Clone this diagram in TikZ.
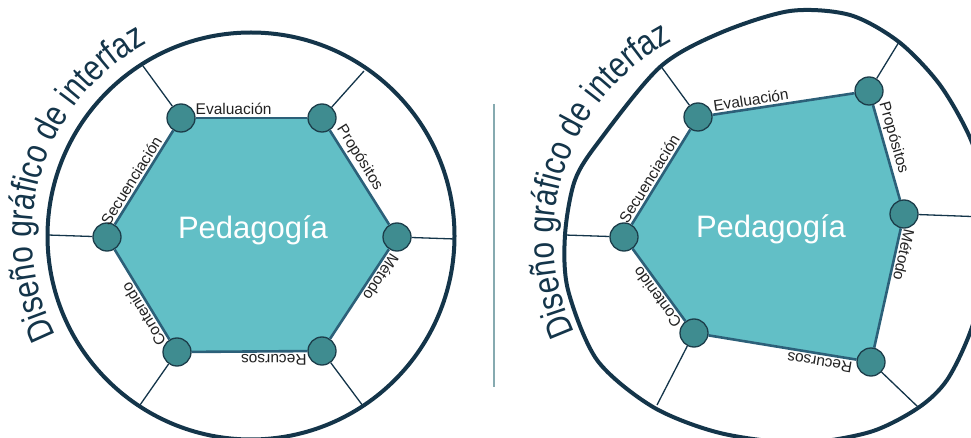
\documentclass[tikz,border=0pt]{standalone}
\usepackage{fontspec}
\setmainfont{Liberation Sans}
\newfontfamily\titlefam[FakeStretch=0.83]{Liberation Sans}
\usetikzlibrary{decorations.text}
\definecolor{navy}{HTML}{14354A}
\definecolor{tealfill}{HTML}{62BFC6}
\definecolor{dotfill}{HTML}{3F8C90}
\definecolor{dotline}{HTML}{1C3D4A}
\definecolor{edgecol}{HTML}{2C6079}
\definecolor{divcol}{HTML}{86AAB0}
\definecolor{labcol}{HTML}{222222}
\newcommand{\titlefont}{\titlefam\fontsize{36}{38}\selectfont\color{navy}}
\begin{document}
\begin{tikzpicture}[x=1pt,y=-1pt,
  dot/.style={circle, draw=dotline, fill=dotfill, line width=1.3pt, minimum size=28pt, inner sep=0pt},
  hexedge/.style={draw=edgecol, line width=2.6pt},
  spoke/.style={draw=navy, line width=1.3pt},
  outerline/.style={draw=navy, line width=4pt},
  lab/.style={font=\fontsize{15.5}{17}\selectfont, text=labcol, sloped, allow upside down, above, inner sep=2pt},
  centertext/.style={font=\fontsize{31}{33}\selectfont, text=white, anchor=base},
  divider/.style={draw=divcol, line width=1.2pt}
]
\useasboundingbox (0,0) rectangle (971,438);
\clip (0,0) rectangle (971,438);

% ---------------- left diagram ----------------
\coordinate (lc) at (251,236);
\coordinate (lA) at (181,118);
\coordinate (lB) at (322,118);
\coordinate (lC) at (397,237);
\coordinate (lD) at (322,351);
\coordinate (lE) at (177,352);
\coordinate (lF) at (107,237);
\fill[tealfill] (lA) -- (lB) -- (lC) -- (lD) -- (lE) -- (lF) -- cycle;
\draw[outerline] (lc) circle[radius=203.5pt];
\coordinate (lsA) at (143,66);
\coordinate (lsB) at (364,71);
\coordinate (lsC) at (455,239);
\coordinate (lsD) at (363,406);
\coordinate (lsE) at (140,405);
\coordinate (lsF) at (48,235);
\node[dot] (lev) at (lA) {};
\node[dot] (lpr) at (lB) {};
\node[dot] (lme) at (lC) {};
\node[dot] (lre) at (lD) {};
\node[dot] (lco) at (lE) {};
\node[dot] (lse) at (lF) {};
\draw[spoke] (lev) -- (lsA);
\draw[spoke] (lpr) -- (lsB);
\draw[spoke] (lme) -- (lsC);
\draw[spoke] (lre) -- (lsD);
\draw[spoke] (lco) -- (lsE);
\draw[spoke] (lse) -- (lsF);
\draw[hexedge] (lev) -- node[lab,pos=0.34] {Evaluación} (lpr);
\draw[hexedge] (lpr) -- node[lab,pos=0.35] {Propósitos} (lme);
\draw[hexedge] (lme) -- node[lab,pos=0.26] {Método} (lre);
\draw[hexedge] (lre) -- node[lab,pos=0.29] {Recursos} (lco);
\draw[hexedge] (lco) -- node[lab,pos=0.33] {Contenido} (lse);
\draw[hexedge] (lse) -- node[lab,pos=0.415] {Secuenciación} (lev);
\node[centertext] (lped) at (253,239) {Pedagogía};
\path[decorate, decoration={text along path, text align=left,
  text={|\titlefont|Diseño gráfico de interfaz}}]
  ([shift={(207:219pt)}]lc) arc[start angle=207, end angle=100, radius=219pt];

% ---------------- divider ----------------
\coordinate (dv1) at (494,104);
\coordinate (dv2) at (494,387);
\draw[divider] (dv1) -- (dv2);

% ---------------- right diagram ----------------
\coordinate (rc) at (777,238);
\coordinate (rA) at (698,117);
\coordinate (rB) at (869,91);
\coordinate (rC) at (904,214);
\coordinate (rD) at (871,362);
\coordinate (rE) at (694,333);
\coordinate (rF) at (624,237);
\fill[tealfill] (rA) -- (rB) -- (rC) -- (rD) -- (rE) -- (rF) -- cycle;
\draw[outerline] plot[smooth cycle, tension=0.5] coordinates {
  (565,235) (575,180) (600,140) (660,67) (720,33) (790,11) (850,15)
  (899,42) (940,85) (971,140) (988,200) (990,260) (971,330) (947,380)
  (918,408) (870,432) (800,443) (720,433) (653,407) (597,360) (568,290)};
\coordinate (rsA) at (660,65);
\coordinate (rsB) at (899,42);
\coordinate (rsC) at (985,217);
\coordinate (rsD) at (918,407);
\coordinate (rsE) at (657,405);
\coordinate (rsF) at (565,235);
\node[dot] (rev) at (rA) {};
\node[dot] (rpr) at (rB) {};
\node[dot] (rme) at (rC) {};
\node[dot] (rre) at (rD) {};
\node[dot] (rco) at (rE) {};
\node[dot] (rse) at (rF) {};
\draw[spoke] (rev) -- (rsA);
\draw[spoke] (rpr) -- (rsB);
\draw[spoke] (rme) -- (rsC);
\draw[spoke] (rre) -- (rsD);
\draw[spoke] (rco) -- (rsE);
\draw[spoke] (rse) -- (rsF);
\draw[hexedge] (rev) -- node[lab,pos=0.28] {Evaluación} (rpr);
\draw[hexedge] (rpr) -- node[lab,pos=0.375] {Propósitos} (rme);
\draw[hexedge] (rme) -- node[lab,pos=0.21] {Método} (rre);
\draw[hexedge] (rre) -- node[lab,pos=0.24] {Recursos} (rco);
\draw[hexedge] (rco) -- node[lab,pos=0.40] {Contenido} (rse);
\draw[hexedge] (rse) -- node[lab,pos=0.43] {Secuenciación} (rev);
\node[centertext] (rped) at (771,238) {Pedagogía};
\path[decorate, decoration={text along path, text align=left,
  text={|\titlefont|Diseño gráfico de interfaz}}]
  ([shift={(205:223pt)}]rc) arc[start angle=205, end angle=100, radius=223pt];
\end{tikzpicture}
\end{document}
